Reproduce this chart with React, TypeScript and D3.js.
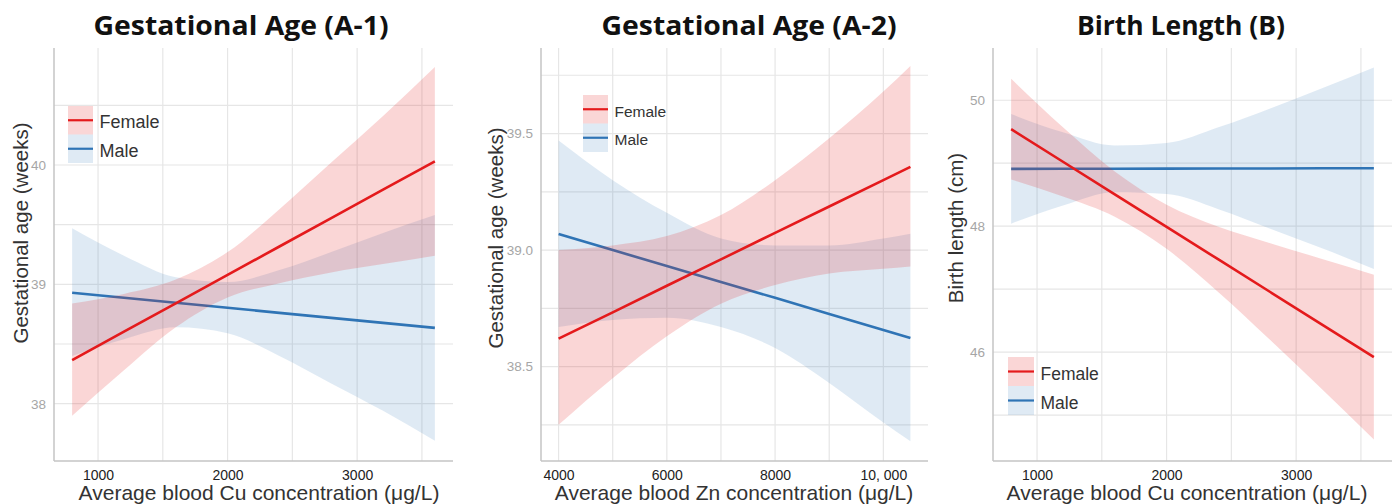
import { useEffect, useRef } from "react";
import * as d3 from "d3";

// x positions where the curves were read (µg/L)
const cuX = [800, 1200, 1600, 2000, 2400, 2800, 3200, 3600];
const znX = [4000, 5000, 6000, 7000, 8000, 9000, 10000, 10500];

// (A-1) gestational age vs Cu
const gaCuFemaleFit = [38.365, 38.603, 38.841, 39.079, 39.317, 39.555, 39.793, 40.031];
const gaCuFemaleUpper = [38.84, 38.92, 39.04, 39.27, 39.63, 40.02, 40.41, 40.82];
const gaCuFemaleLower = [37.9, 38.28, 38.64, 38.89, 39.01, 39.1, 39.17, 39.24];
const gaCuMaleFit = [38.93, 38.888, 38.846, 38.804, 38.761, 38.719, 38.677, 38.635];
const gaCuMaleUpper = [39.47, 39.24, 39.06, 39.02, 39.12, 39.27, 39.43, 39.58];
const gaCuMaleLower = [38.4, 38.54, 38.64, 38.59, 38.4, 38.17, 37.94, 37.69];

// (A-2) gestational age vs Zn
const gaZnFemaleFit = [38.62, 38.733, 38.847, 38.96, 39.074, 39.187, 39.3, 39.357];
const gaZnFemaleUpper = [39.0, 39.02, 39.06, 39.15, 39.3, 39.48, 39.68, 39.79];
const gaZnFemaleLower = [38.25, 38.45, 38.63, 38.77, 38.85, 38.9, 38.92, 38.93];
const gaZnMaleFit = [39.069, 39.0, 38.932, 38.863, 38.795, 38.726, 38.657, 38.623];
const gaZnMaleUpper = [39.47, 39.3, 39.16, 39.05, 39.02, 39.02, 39.05, 39.07];
const gaZnMaleLower = [38.67, 38.7, 38.71, 38.67, 38.58, 38.43, 38.26, 38.18];

// (B) birth length vs Cu
const blCuFemaleFit = [49.54, 49.023, 48.506, 47.988, 47.471, 46.954, 46.437, 45.92];
const blCuFemaleUpper = [50.34, 49.57, 48.87, 48.34, 47.99, 47.73, 47.48, 47.23];
const blCuFemaleLower = [48.74, 48.47, 48.15, 47.64, 46.95, 46.19, 45.41, 44.61];
const blCuMaleFit = [48.91, 48.911, 48.913, 48.914, 48.916, 48.917, 48.919, 48.92];
const blCuMaleUpper = [49.78, 49.49, 49.28, 49.32, 49.57, 49.87, 50.19, 50.52];
const blCuMaleLower = [48.04, 48.33, 48.54, 48.51, 48.27, 47.96, 47.65, 47.32];

// ticks
const cuTicks = [1000, 2000, 3000];
const cuTickLabels = ["1000", "2000", "3000"];
const cuMinor = [1500, 2500, 3500];
const znTicks = [4000, 6000, 8000, 10000];
const znTickLabels = ["4000", "6000", "8000", "10, 000"];
const znMinor = [5000, 7000, 9000];
const gaCuTicks = [38, 39, 40];
const gaCuTickLabels = ["38", "39", "40"];
const gaCuMinor = [38.5, 39.5, 40.5];
const gaZnTicks = [38.5, 39.0, 39.5];
const gaZnTickLabels = ["38.5", "39.0", "39.5"];
const gaZnMinor = [38.25, 38.75, 39.25, 39.75];
const blTicks = [46, 48, 50];
const blTickLabels = ["46", "48", "50"];
const blMinor = [45, 47, 49];

const legendLabels = ["Female", "Male"];

const RED = "#e41a1c";
const BLUE = "#2f74b5";
const PINK_FILL = "rgba(228,26,28,0.18)";
const BLUE_FILL = "rgba(55,126,184,0.16)";
const FONT = "'Liberation Sans', Arial, sans-serif";

type Series = { fit: number[]; upper: number[]; lower: number[] };

const panels = [
  {
    title: "Gestational Age (A-1)",
    titleX: 241,
    titleLen: 295,
    left: 54, right: 453, top: 48, bottom: 461,
    xDomain: [660, 3740], yDomain: [37.52, 40.98],
    xs: cuX,
    xTicks: cuTicks, xTickLabels: cuTickLabels, xMinor: cuMinor,
    yTicks: gaCuTicks, yTickLabels: gaCuTickLabels, yMinor: gaCuMinor,
    female: { fit: gaCuFemaleFit, upper: gaCuFemaleUpper, lower: gaCuFemaleLower },
    male: { fit: gaCuMaleFit, upper: gaCuMaleUpper, lower: gaCuMaleLower },
    xTitle: "Average blood Cu concentration (μg/L)", xTitleX: 259,
    yTitle: "Gestational age (weeks)", yTitleX: 28, yTitleY: 233,
    legend: { x: 68, y: 106, w: 25, h: 28.5, fs: 18 },
  },
  {
    title: "Gestational Age (A-2)",
    titleX: 749,
    titleLen: 295,
    left: 541, right: 928, top: 48, bottom: 461,
    xDomain: [3675, 10825], yDomain: [38.095, 39.867],
    xs: znX,
    xTicks: znTicks, xTickLabels: znTickLabels, xMinor: znMinor,
    yTicks: gaZnTicks, yTickLabels: gaZnTickLabels, yMinor: gaZnMinor,
    female: { fit: gaZnFemaleFit, upper: gaZnFemaleUpper, lower: gaZnFemaleLower },
    male: { fit: gaZnMaleFit, upper: gaZnMaleUpper, lower: gaZnMaleLower },
    xTitle: "Average blood Zn concentration (μg/L)", xTitleX: 734,
    yTitle: "Gestational age (weeks)", yTitleX: 503, yTitleY: 238,
    legend: { x: 583, y: 95, w: 25, h: 28.5, fs: 15.5 },
  },
  {
    title: "Birth Length (B)",
    titleX: 1181,
    titleLen: 208,
    left: 993, right: 1392, top: 48, bottom: 461,
    xDomain: [660, 3740], yDomain: [44.27, 50.83],
    xs: cuX,
    xTicks: cuTicks, xTickLabels: cuTickLabels, xMinor: cuMinor,
    yTicks: blTicks, yTickLabels: blTickLabels, yMinor: blMinor,
    female: { fit: blCuFemaleFit, upper: blCuFemaleUpper, lower: blCuFemaleLower },
    male: { fit: blCuMaleFit, upper: blCuMaleUpper, lower: blCuMaleLower },
    xTitle: "Average blood Cu concentration (μg/L)", xTitleX: 1187,
    yTitle: "Birth length (cm)", yTitleX: 963, yTitleY: 228,
    legend: { x: 1008, y: 357, w: 26, h: 29, fs: 17.5 },
  },
];

type Panel = (typeof panels)[number];

function drawPanel(svg: d3.Selection<SVGSVGElement, unknown, null, undefined>, p: Panel) {
  const x = d3.scaleLinear().domain(p.xDomain).range([p.left, p.right]);
  const y = d3.scaleLinear().domain(p.yDomain).range([p.bottom, p.top]);
  const g = svg.append("g");

  // grid
  g.append("g")
    .selectAll("line")
    .data([...p.xMinor, ...p.xTicks])
    .join("line")
    .attr("x1", (d) => x(d))
    .attr("x2", (d) => x(d))
    .attr("y1", p.top)
    .attr("y2", p.bottom)
    .attr("stroke", "#e6e6e6")
    .attr("stroke-width", 1.2);
  g.append("g")
    .selectAll("line")
    .data([...p.yMinor, ...p.yTicks])
    .join("line")
    .attr("x1", p.left)
    .attr("x2", p.right)
    .attr("y1", (d) => y(d))
    .attr("y2", (d) => y(d))
    .attr("stroke", "#e6e6e6")
    .attr("stroke-width", 1.2);

  // axis lines
  g.append("line")
    .attr("x1", p.left).attr("x2", p.left)
    .attr("y1", p.top).attr("y2", p.bottom)
    .attr("stroke", "#c4c4c4").attr("stroke-width", 1.5);
  g.append("line")
    .attr("x1", p.left).attr("x2", p.right)
    .attr("y1", p.bottom).attr("y2", p.bottom)
    .attr("stroke", "#c4c4c4").attr("stroke-width", 1.5);

  const idx = d3.range(p.xs.length);
  const drawSeries = (s: Series, fill: string, stroke: string) => {
    const area = d3
      .area<number>()
      .x((i) => x(p.xs[i]))
      .y0((i) => y(s.lower[i]))
      .y1((i) => y(s.upper[i]))
      .curve(d3.curveMonotoneX);
    g.append("path").datum(idx).attr("d", area).attr("fill", fill);
    const line = d3
      .line<number>()
      .x((i) => x(p.xs[i]))
      .y((i) => y(s.fit[i]));
    g.append("path")
      .datum(idx)
      .attr("d", line)
      .attr("fill", "none")
      .attr("stroke", stroke)
      .attr("stroke-width", 2.6);
  };
  drawSeries(p.male, BLUE_FILL, BLUE);
  drawSeries(p.female, PINK_FILL, RED);

  // axes labels
  const xAxis = g
    .append("g")
    .attr("transform", `translate(0,${p.bottom})`)
    .call(
      d3.axisBottom(x)
        .tickValues(p.xTicks)
        .tickFormat((_d, i) => p.xTickLabels[i])
        .tickSize(0)
        .tickPadding(9.5),
    );
  xAxis.select(".domain").remove();
  xAxis.selectAll("text")
    .attr("fill", "#222")
    .style("font-family", FONT)
    .style("font-size", "14px");

  const yAxis = g
    .append("g")
    .attr("transform", `translate(${p.left},0)`)
    .call(
      d3.axisLeft(y)
        .tickValues(p.yTicks)
        .tickFormat((_d, i) => p.yTickLabels[i])
        .tickSize(0)
        .tickPadding(8),
    );
  yAxis.select(".domain").remove();
  yAxis.selectAll("text")
    .attr("fill", "#a6a6a6")
    .style("font-family", FONT)
    .style("font-size", "13.5px");

  // titles
  g.append("text")
    .attr("x", p.titleX)
    .attr("y", 35)
    .attr("text-anchor", "middle")
    .attr("textLength", p.titleLen)
    .attr("lengthAdjust", "spacingAndGlyphs")
    .style("font-family", "'Open Sans', sans-serif")
    .style("font-weight", "bold")
    .style("font-size", "27px")
    .attr("fill", "#111")
    .text(p.title);

  g.append("text")
    .attr("x", p.xTitleX)
    .attr("y", 500)
    .attr("text-anchor", "middle")
    .style("font-family", FONT)
    .style("font-size", "21px")
    .attr("fill", "#333")
    .text(p.xTitle);

  g.append("text")
    .attr("transform", `translate(${p.yTitleX},${p.yTitleY}) rotate(-90)`)
    .attr("text-anchor", "middle")
    .style("font-family", FONT)
    .style("font-size", "20.5px")
    .attr("fill", "#333")
    .text(p.yTitle);

  // legend
  const lg = g.append("g").attr("transform", `translate(${p.legend.x},${p.legend.y})`);
  const keys = [
    { fill: PINK_FILL, stroke: RED },
    { fill: BLUE_FILL, stroke: BLUE },
  ];
  keys.forEach((k, i) => {
    const ky = i * p.legend.h;
    lg.append("rect")
      .attr("x", 0)
      .attr("y", ky)
      .attr("width", p.legend.w)
      .attr("height", p.legend.h)
      .attr("fill", k.fill);
    lg.append("line")
      .attr("x1", 0)
      .attr("x2", p.legend.w)
      .attr("y1", ky + p.legend.h / 2)
      .attr("y2", ky + p.legend.h / 2)
      .attr("stroke", k.stroke)
      .attr("stroke-width", 2.2);
    lg.append("text")
      .attr("x", p.legend.w + 6.5)
      .attr("y", ky + p.legend.h / 2 + 2)
      .attr("dominant-baseline", "central")
      .style("font-family", FONT)
      .style("font-size", `${p.legend.fs}px`)
      .attr("fill", "#333")
      .text(legendLabels[i]);
  });
}

export default function App() {
  const svgRef = useRef<SVGSVGElement>(null);

  useEffect(() => {
    if (!svgRef.current) return;
    const svg = d3.select(svgRef.current);
    svg.selectAll("*").remove(); // Clear previous content
    panels.forEach((p) => drawPanel(svg, p));
  }, []);

  return (
    <svg
      ref={svgRef}
      width={1397}
      height={504}
      style={{ position: "absolute", left: 0, top: 0, background: "#fff" }}
    />
  );
}
